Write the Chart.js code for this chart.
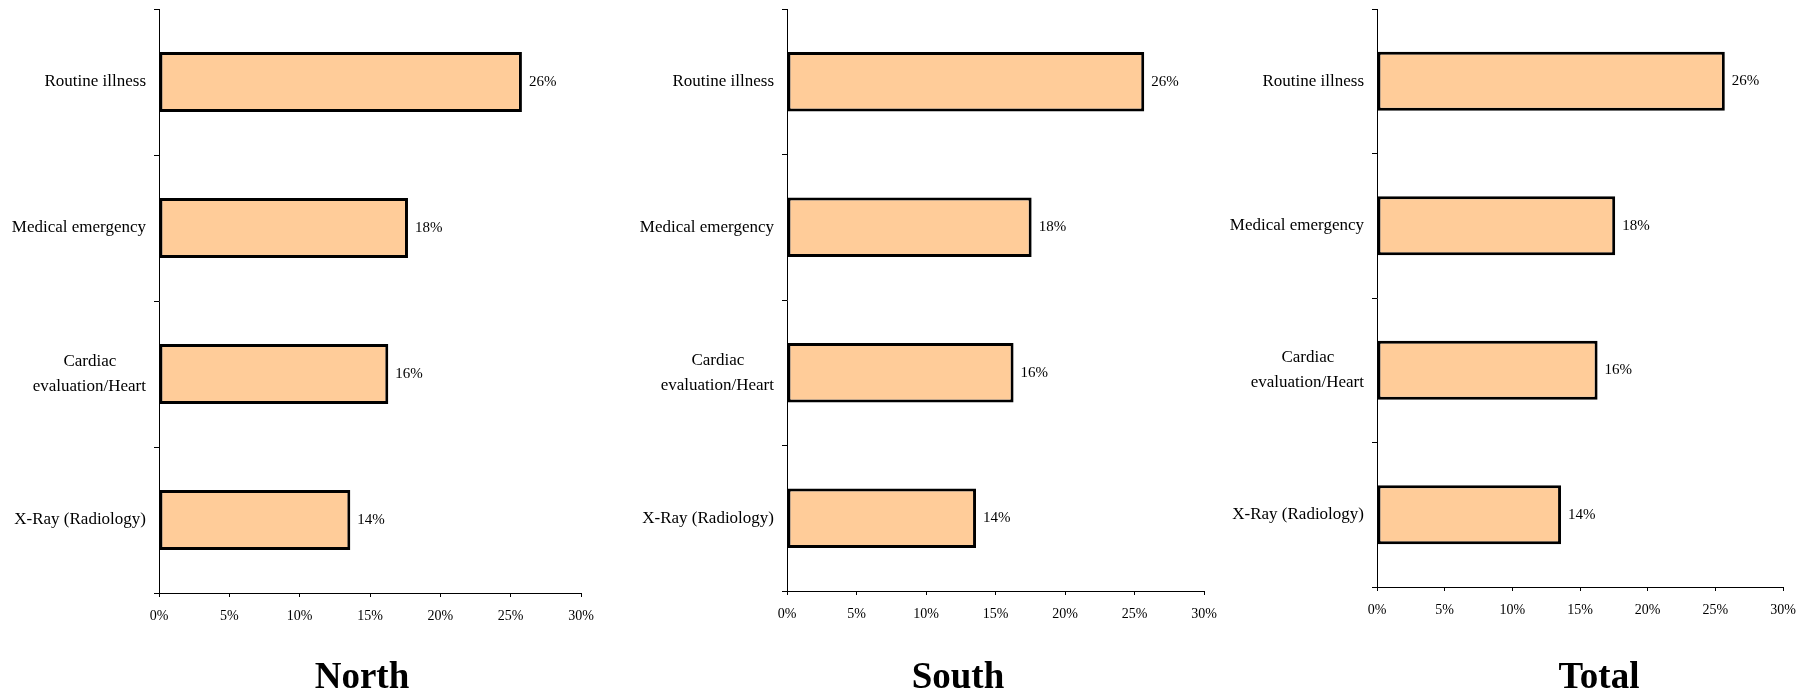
<!DOCTYPE html>
<html>
<head>
<meta charset="utf-8">
<script src="https://cdn.jsdelivr.net/npm/chart.js@4.4.0/dist/chart.umd.min.js"></script>
<style>
  html, body { margin: 0; padding: 0; background: #fff; }
  #wrap { position: relative; width: 1812px; height: 695px; overflow: hidden; }
  #wrap canvas { position: absolute; left: 0; top: 0; }
  .panel-title {
    position: absolute; top: 657px; transform: translateX(-50%);
    font: bold 37px/37px "Liberation Serif", "Times New Roman", serif;
    color: #000; white-space: nowrap;
  }
</style>
</head>
<body>
<div id="wrap"></div>
<script>
// data (percent of visits)
const categories = ["Routine illness", "Medical emergency", ["Cardiac", "evaluation/Heart"], "X-Ray (Radiology)"];
const northValues = [25.8, 17.7, 16.3, 13.6];
const southValues = [25.7, 17.6, 16.3, 13.6];
const totalValues = [25.7, 17.6, 16.3, 13.6];
const percentTicks = [0, 5, 10, 15, 20, 25, 30];
const panelTitles = ["North", "South", "Total"];

const W = 1812, H = 695;
const Y_AXIS_W = 155, X_AXIS_H = 40;
const FONT = "'Liberation Serif', 'Times New Roman', serif";

// where each plot area sits on the page
const panels = [
    { values: northValues, area: { left: 159, right: 581, top: 9, bottom: 593 }, titleX: 362 },
    { values: southValues, area: { left: 787, right: 1204, top: 9, bottom: 591 }, titleX: 958 },
    { values: totalValues, area: { left: 1377, right: 1783, top: 9, bottom: 587 }, titleX: 1599 }
];

const measureCtx = document.createElement("canvas").getContext("2d");

// pad shorter lines so a two-line label reads as a centred block
function centerLines(lines) {
    measureCtx.font = "17px " + FONT;
    const widest = Math.max(...lines.map(l => measureCtx.measureText(l).width));
    const space = measureCtx.measureText(" ").width;
    return lines.map(l => l + " ".repeat(Math.round((widest - measureCtx.measureText(l).width) / 2 / space)));
}

const valueLabels = {
    id: "valueLabels",
    afterDatasetsDraw(chart) {
        const ctx = chart.ctx;
        const values = chart.data.datasets[0].data;
        ctx.save();
        ctx.font = "15px " + FONT;
        ctx.fillStyle = "#000";
        ctx.textBaseline = "middle";
        ctx.textAlign = "left";
        chart.getDatasetMeta(0).data.forEach((bar, i) => {
            ctx.fillText(Math.round(values[i]) + "%", bar.x + 7, bar.y);
        });
        ctx.restore();
    }
};

const wrap = document.getElementById("wrap");

panels.forEach((p, idx) => {
    const canvas = document.createElement("canvas");
    canvas.width = W;
    canvas.height = H;
    wrap.appendChild(canvas);

    const title = document.createElement("div");
    title.className = "panel-title";
    title.style.left = p.titleX + "px";
    title.textContent = panelTitles[idx];
    wrap.appendChild(title);

    new Chart(canvas.getContext("2d"), {
        type: "bar",
        data: {
            labels: categories,
            datasets: [{
                data: p.values,
                backgroundColor: "#FFCC99",
                borderColor: "#000",
                borderWidth: 3,
                borderSkipped: false,
                barPercentage: 0.41,
                categoryPercentage: 1
            }]
        },
        options: {
            responsive: false,
            animation: false,
            indexAxis: "y",
            layout: {
                padding: {
                    left: p.area.left - Y_AXIS_W,
                    right: W - p.area.right,
                    top: p.area.top,
                    bottom: H - p.area.bottom - X_AXIS_H
                }
            },
            plugins: {
                legend: { display: false },
                tooltip: { enabled: false }
            },
            scales: {
                x: {
                    min: percentTicks[0],
                    max: percentTicks[percentTicks.length - 1],
                    ticks: {
                        stepSize: percentTicks[1] - percentTicks[0],
                        callback: v => v + "%",
                        color: "#000",
                        font: { family: FONT, size: 14 },
                        padding: 11,
                        maxRotation: 0,
                        autoSkip: false
                    },
                    grid: { drawOnChartArea: false, tickLength: 4, color: "#000" },
                    border: { color: "#000", width: 1 },
                    afterFit(s) { s.height = X_AXIS_H; s.paddingLeft = 0; s.paddingRight = 0; }
                },
                y: {
                    ticks: {
                        color: "#000",
                        font: { family: FONT, size: 17, lineHeight: 1.45 },
                        padding: 8,
                        callback(value) {
                            const lbl = this.getLabelForValue(value);
                            return Array.isArray(lbl) ? centerLines(lbl) : lbl;
                        }
                    },
                    grid: { drawOnChartArea: false, tickLength: 5, color: "#000", offset: true },
                    border: { color: "#000", width: 1 },
                    afterFit(s) { s.width = Y_AXIS_W; s.paddingTop = 0; s.paddingBottom = 0; }
                }
            }
        },
        plugins: [valueLabels]
    });
});
</script>
</body>
</html>
